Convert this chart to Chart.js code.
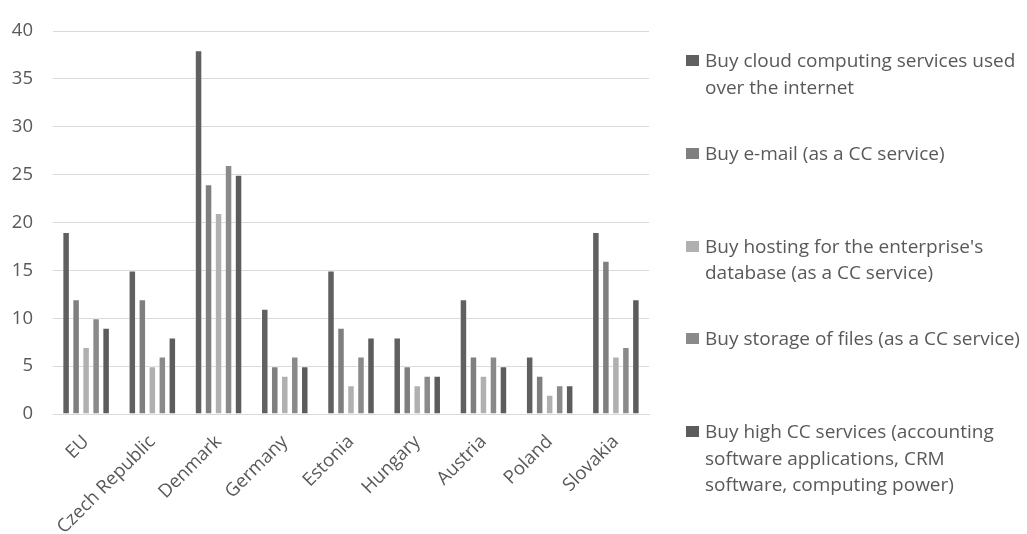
<!DOCTYPE html>
<html>
<head>
<meta charset="utf-8">
<script src="https://cdn.jsdelivr.net/npm/chart.js@4.4.1/dist/chart.umd.min.js"></script>
<style>
  html, body { margin: 0; padding: 0; background: #fff; }
  #wrap { position: relative; width: 1027px; height: 534px; }
  #legend {
    position: absolute; left: 686px; top: 47px; width: 341px;
    font-family: "Open Sans", sans-serif; font-size: 19px; color: #595959;
    white-space: nowrap;
  }
  .item { position: absolute; left: 0; display: flex; align-items: flex-start; line-height: 26.5px; }
  .box { width: 13px; height: 11px; margin-top: 8px; margin-right: 6px; flex: none; }
</style>
</head>
<body>
<div id="wrap">
  <canvas id="chart" width="1027" height="534"></canvas>
  <div id="legend"></div>
</div>
<script>
const countries = ['EU', 'Czech Republic', 'Denmark', 'Germany', 'Estonia', 'Hungary', 'Austria', 'Poland', 'Slovakia'];

const seriesNames = [
  ['Buy cloud computing services used', 'over the internet'],
  ['Buy e-mail (as a CC service)'],
  ["Buy hosting for the enterprise's", 'database (as a CC service)'],
  ['Buy storage of files (as a CC service)'],
  ['Buy high CC services (accounting', 'software applications, CRM', 'software, computing power)']
];

const cloudServices = [19, 15, 38, 11, 15, 8, 12, 6, 19];
const email = [12, 12, 24, 5, 9, 5, 6, 4, 16];
const hosting = [7, 5, 21, 4, 3, 3, 4, 2, 6];
const storage = [10, 6, 26, 6, 6, 4, 6, 3, 7];
const highServices = [9, 8, 25, 5, 8, 4, 5, 3, 12];

const yTicks = [0, 5, 10, 15, 20, 25, 30, 35, 40];

const seriesValues = [cloudServices, email, hosting, storage, highServices];
const seriesColors = ['#606060', '#7f7f7f', '#b0b0b0', '#8a8a8a', '#5c5c5c'];

const datasets = seriesValues.map((values, i) => ({
  label: seriesNames[i].join(' '),
  data: values,
  backgroundColor: seriesColors[i],
  borderColor: 'rgba(255,255,255,0.55)',
  borderWidth: 1,
  categoryPercentage: 0.755,
  barPercentage: 0.75
}));

const font = { family: '"Open Sans", sans-serif', size: 18.5 };

new Chart(document.getElementById('chart'), {
  type: 'bar',
  data: { labels: countries, datasets: datasets },
  options: {
    responsive: false,
    animation: false,
    layout: { padding: { top: 26, right: 378, left: 0, bottom: 0 } },
    scales: {
      x: {
        grid: { display: false, drawTicks: false },
        border: { color: '#d9d9d9', width: 1 },
        ticks: { color: '#595959', font: font, minRotation: 45, maxRotation: 45, padding: 17 },
        afterFit: scale => { scale.height = 120; }
      },
      y: {
        min: 0,
        max: 40,
        afterBuildTicks: scale => { scale.ticks = yTicks.map(v => ({ value: v })); },
        grid: { color: '#d9d9d9', lineWidth: 1, drawTicks: false },
        border: { display: false },
        ticks: { color: '#595959', font: font, padding: 20 },
        afterFit: scale => { scale.width = 53; }
      }
    },
    plugins: {
      legend: { display: false },
      tooltip: { enabled: false }
    }
  }
});

// legend on the right, one block per series with wrapped lines
const legendEl = document.getElementById('legend');
seriesNames.forEach((lines, i) => {
  const item = document.createElement('div');
  item.className = 'item';
  item.style.top = (i * 92.8) + 'px';
  const box = document.createElement('span');
  box.className = 'box';
  box.style.background = seriesColors[i];
  const text = document.createElement('span');
  text.innerHTML = lines.join('<br>');
  item.appendChild(box);
  item.appendChild(text);
  legendEl.appendChild(item);
});
</script>
</body>
</html>
